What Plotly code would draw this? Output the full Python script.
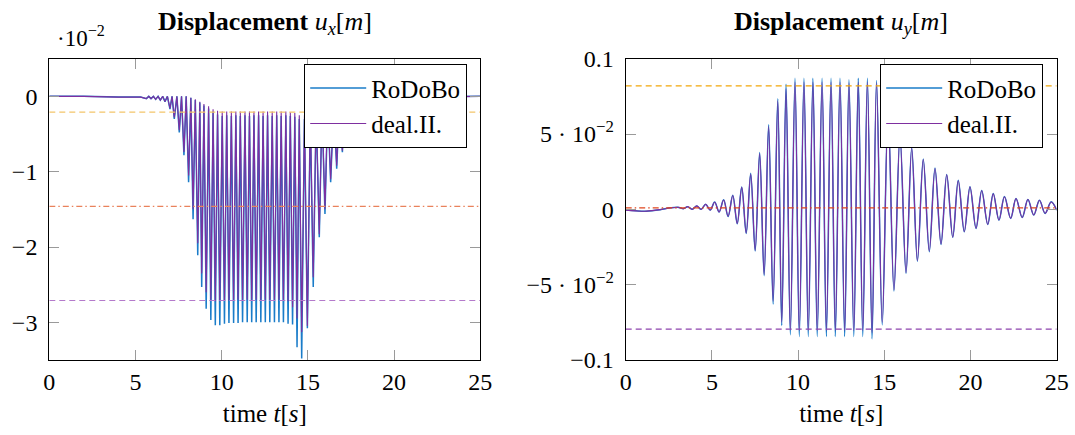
import plotly.graph_objects as go

# ---------------- data: left panel, u_x in units of 1e-2 m ----------------
ux_time = [0.0, 2.0, 4.0, 5.3,
           5.63, 5.77, 5.90, 6.04, 6.17, 6.31, 6.44, 6.58, 6.71, 6.85, 7.00, 7.12,
           7.25, 7.40, 7.54, 7.67, 7.81, 7.94, 8.08, 8.21, 8.34, 8.47, 8.61, 8.73,
           8.84, 8.97, 9.10, 9.24, 9.37, 9.50, 9.63, 9.76, 9.89, 10.03, 10.16, 10.29,
           10.42, 10.56, 10.69, 10.82, 10.95, 11.08, 11.21, 11.35, 11.48, 11.61, 11.74,
           11.87, 12.00, 12.14, 12.27, 12.40, 12.53, 12.66, 12.79, 12.93, 13.06, 13.19,
           13.32, 13.45, 13.58, 13.72, 13.85, 13.98, 14.11, 14.24, 14.37, 14.50, 14.64,
           14.80, 14.97, 15.14, 15.31, 15.48, 15.66, 15.82, 15.99, 16.15, 16.32, 16.50,
           16.67, 16.83, 17.00, 17.15, 17.31, 17.48, 17.65, 17.82, 17.98, 18.15, 18.32,
           18.50, 18.66, 19.00, 19.50, 20.00, 21.00, 25.00]
ux_rodobo = [0.0, 0.0, -0.01, -0.01,
             -0.03, 0.0, -0.03, 0.0, -0.04, 0.0, -0.05, 0.0, -0.07, 0.0, -0.17, 0.0,
             -0.30, 0.0, -0.48, 0.0, -0.78, 0.0, -1.14, -0.02, -1.63, -0.05, -2.11, -0.08,
             -2.53, -0.12, -2.82, -0.16, -2.97, -0.20, -3.04, -0.24, -3.04, -0.26, -3.02, -0.25,
             -3.01, -0.26, -3.01, -0.25, -3.01, -0.26, -3.00, -0.25, -3.00, -0.26, -3.00,
             -0.25, -3.00, -0.25, -3.00, -0.26, -3.00, -0.25, -3.00, -0.26, -3.00, -0.25,
             -3.00, -0.26, -3.00, -0.25, -3.02, -0.26, -3.03, -0.27, -3.33, -0.30, -3.48,
             -0.30, -3.08, -0.25, -2.53, -0.20, -1.87, -0.15, -1.56, -0.12, -1.14, -0.10,
             -0.96, -0.08, -0.74, -0.06, -0.63, -0.05, -0.50, -0.04, -0.40, -0.03, -0.30,
             -0.02, -0.22, -0.02, -0.10, -0.01, -0.01, 0.0]
ux_dealii = [0.0, 0.0, -0.01, -0.01,
             -0.03, 0.0, -0.03, 0.0, -0.04, 0.0, -0.05, 0.0, -0.07, 0.0, -0.16, 0.0,
             -0.28, 0.0, -0.45, 0.0, -0.74, 0.0, -1.05, -0.02, -1.50, -0.04, -1.95, -0.07,
             -2.35, -0.10, -2.60, -0.13, -2.70, -0.17, -2.72, -0.19, -2.72, -0.20, -2.71, -0.20,
             -2.71, -0.20, -2.70, -0.20, -2.70, -0.20, -2.70, -0.20, -2.70, -0.20, -2.70,
             -0.20, -2.70, -0.20, -2.70, -0.20, -2.70, -0.20, -2.70, -0.20, -2.70, -0.20,
             -2.70, -0.20, -2.70, -0.20, -2.72, -0.21, -2.80, -0.22, -2.95, -0.25, -3.13,
             -0.25, -3.05, -0.22, -2.40, -0.18, -1.83, -0.14, -1.50, -0.11, -1.10, -0.09,
             -0.92, -0.07, -0.72, -0.05, -0.60, -0.04, -0.48, -0.03, -0.38, -0.02, -0.28,
             -0.02, -0.20, -0.01, -0.09, -0.01, -0.01, 0.0]
ux_ref_levels = [-0.21, -1.46, -2.71]

# ---------------- data: right panel, u_y in m ----------------
uy_time = [0.0, 0.6, 1.2, 2.0, 2.6, 3.08, 3.34, 3.60, 3.86, 4.12, 4.38, 4.64, 4.90,
           5.16, 5.42, 5.68, 5.94, 6.21, 6.47, 6.73, 6.99, 7.25, 7.51, 7.77, 8.03,
           8.29, 8.55, 8.82, 9.05, 9.30, 9.55, 9.82, 10.07, 10.34, 10.59, 10.86, 11.11,
           11.39, 11.64, 11.91, 12.16, 12.43, 12.70, 12.95, 13.23, 13.49, 13.75, 14.02,
           14.29, 14.55, 14.88, 15.22, 15.56, 15.91, 16.26, 16.59, 16.92, 17.26, 17.61,
           17.94, 18.29, 18.62, 18.97, 19.29, 19.64, 19.97, 20.32, 20.65, 21.00, 21.32,
           21.65, 21.97, 22.33, 22.64, 23.00, 23.33, 23.67, 24.00, 24.33, 24.68, 25.00]
uy_rodobo = [-0.0005, -0.0010, -0.0012, -0.0002, 0.0010, 0.0013, 0.0004, 0.0018, 0.0000,
             0.0023, 0.0000, 0.0034, -0.0005, 0.0048, -0.0017, 0.0063, -0.0047, 0.0094,
             -0.0096, 0.0149, -0.0160, 0.0240, -0.0277, 0.0377, -0.0440, 0.0562, -0.0630,
             0.0734, -0.0771, 0.0830, -0.0833, 0.0870, -0.0844, 0.0870, -0.0844, 0.0870,
             -0.0844, 0.0870, -0.0844, 0.0870, -0.0844, 0.0870, -0.0844, 0.0860, -0.0844,
             0.0870, -0.0844, 0.0870, -0.0860, 0.0855, -0.0767, 0.0660, -0.0542, 0.0490,
             -0.0425, 0.0410, -0.0345, 0.0335, -0.0281, 0.0275, -0.0233, 0.0232, -0.0186,
             0.0193, -0.0149, 0.0150, -0.0127, 0.0125, -0.0100, 0.0105, -0.0072, 0.0085,
             -0.0060, 0.0072, -0.0054, 0.0066, -0.0038, 0.0061, -0.0027, 0.0050, -0.0005]
uy_dealii = [-0.0005, -0.0010, -0.0012, -0.0002, 0.0010, 0.0013, 0.0004, 0.0018, 0.0000,
             0.0023, 0.0000, 0.0033, -0.0005, 0.0047, -0.0017, 0.0062, -0.0046, 0.0092,
             -0.0094, 0.0146, -0.0157, 0.0235, -0.0272, 0.0370, -0.0432, 0.0550, -0.0610,
             0.0720, -0.0750, 0.0800, -0.0800, 0.0845, -0.0805, 0.0845, -0.0805, 0.0845,
             -0.0805, 0.0845, -0.0805, 0.0845, -0.0805, 0.0845, -0.0805, 0.0840, -0.0805,
             0.0845, -0.0805, 0.0845, -0.0820, 0.0840, -0.0750, 0.0650, -0.0535, 0.0485,
             -0.0420, 0.0405, -0.0340, 0.0330, -0.0277, 0.0271, -0.0230, 0.0229, -0.0184,
             0.0190, -0.0147, 0.0148, -0.0125, 0.0123, -0.0099, 0.0103, -0.0071, 0.0084,
             -0.0059, 0.0071, -0.0053, 0.0065, -0.0037, 0.0060, -0.0026, 0.0049, -0.0005]
uy_ref_levels = [0.082, 0.001, -0.0795]

t_span = [0, 25]
x_ticks = [0, 5, 10, 15, 20, 25]
ux_ticks = [0, -1, -2, -3]
ux_ticktext = ["0", "\u22121", "\u22122", "\u22123"]
uy_ticks = [0.1, 0.05, 0, -0.05, -0.1]
uy_ticktext = ["0.1", "5 \u00b7 10<sup>\u22122</sup>", "0", "\u22125 \u00b7 10<sup>\u22122</sup>", "\u22120.1"]

# ---------------- styling ----------------
FONT = "Liberation Serif"
BLUE = "#1a7cc9"
PURPLE = "#7e2fa0"
W, H = 1075, 435

fig = go.Figure()

fig.add_trace(go.Scatter(x=ux_time, y=ux_rodobo, mode="lines", name="RoDoBo",
                         line=dict(color=BLUE, width=1.5), xaxis="x", yaxis="y", legend="legend"))
fig.add_trace(go.Scatter(x=ux_time, y=ux_dealii, mode="lines", name="deal.II.",
                         line=dict(color=PURPLE, width=1.1), xaxis="x", yaxis="y", legend="legend"))

left_styles = [("#f3c56a", "6px,4px"), ("#e9825c", "6px,3px,1.5px,3px"), ("#b47acb", "6px,4px")]
for lvl, (c, d) in zip(ux_ref_levels, left_styles):
    fig.add_trace(go.Scatter(x=t_span, y=[lvl, lvl], mode="lines", showlegend=False,
                             line=dict(color=c, width=1.2, dash=d), xaxis="x", yaxis="y",
                             hoverinfo="skip"))

fig.add_trace(go.Scatter(x=uy_time, y=uy_rodobo, mode="lines", name="RoDoBo",
                         line=dict(color=BLUE, width=1.5, shape="spline", smoothing=1),
                         xaxis="x2", yaxis="y2", legend="legend2"))
fig.add_trace(go.Scatter(x=uy_time, y=uy_dealii, mode="lines", name="deal.II.",
                         line=dict(color=PURPLE, width=1.1, shape="spline", smoothing=1),
                         xaxis="x2", yaxis="y2", legend="legend2"))

right_styles = [("#f2a70a", "6px,4px"), ("#e0461e", "6px,3px,1.5px,3px"), ("#8e44ad", "6px,4px")]
for lvl, (c, d) in zip(uy_ref_levels, right_styles):
    fig.add_trace(go.Scatter(x=t_span, y=[lvl, lvl], mode="lines", showlegend=False,
                             line=dict(color=c, width=1.2, dash=d), xaxis="x2", yaxis="y2",
                             hoverinfo="skip"))

ydom = [1 - 360 / H, 1 - 58.7 / H]
TICK_SIZE = 24
common_axis = dict(showgrid=False, zeroline=False, showline=True, linecolor="black",
                   linewidth=1.2, mirror="ticks", ticks="inside", ticklen=10,
                   tickcolor="#9a9a9a", tickwidth=1.3, automargin=False,
                   tickfont=dict(family=FONT, size=TICK_SIZE, color="black"))
xtitle = dict(text="time <i>t</i>[<i>s</i>]", font=dict(family=FONT, size=25), standoff=10)
legend_style = dict(xanchor="left", yanchor="top", bgcolor="white", bordercolor="black",
                    borderwidth=1.2, font=dict(family=FONT, size=25), itemwidth=56,
                    tracegroupgap=0)

fig.update_layout(
    template="none",
    width=W, height=H, autosize=False,
    margin=dict(l=0, r=0, t=0, b=0, autoexpand=False),
    paper_bgcolor="white", plot_bgcolor="white",
    font=dict(family=FONT, color="black"),
    xaxis=dict(domain=[49.3 / W, 480.3 / W], range=[0, 25], tickvals=x_ticks,
               title=xtitle, anchor="y", **common_axis),
    yaxis=dict(domain=ydom, range=[-3.5, 0.5], tickvals=ux_ticks, ticktext=ux_ticktext,
               anchor="x", ticklabelstandoff=6, **common_axis),
    xaxis2=dict(domain=[625.7 / W, 1056.7 / W], range=[0, 25], tickvals=x_ticks,
                title=xtitle, anchor="y2", **common_axis),
    yaxis2=dict(domain=ydom, range=[-0.1, 0.1], tickvals=uy_ticks, ticktext=uy_ticktext,
                anchor="x2", ticklabelstandoff=6, **common_axis),
    legend=dict(x=304 / W, y=1 - 64 / H, **legend_style),
    legend2=dict(x=880 / W, y=1 - 64 / H, **legend_style),
    annotations=[
        dict(text="<b>Displacement</b> <i>u<sub>x</sub></i>[<i>m</i>]", x=264.8 / W, y=1 - 23 / H,
             xref="paper", yref="paper", xanchor="center", yanchor="middle", showarrow=False,
             font=dict(family=FONT, size=26)),
        dict(text="<b>Displacement</b> <i>u<sub>y</sub></i>[<i>m</i>]", x=841.2 / W, y=1 - 23 / H,
             xref="paper", yref="paper", xanchor="center", yanchor="middle", showarrow=False,
             font=dict(family=FONT, size=26)),
        dict(text="\u00b710<sup>\u22122</sup>", x=55 / W, y=1 - 37 / H,
             xref="paper", yref="paper", xanchor="left", yanchor="middle", showarrow=False,
             font=dict(family=FONT, size=23)),
    ],
)

fig.write_html("out.html")
